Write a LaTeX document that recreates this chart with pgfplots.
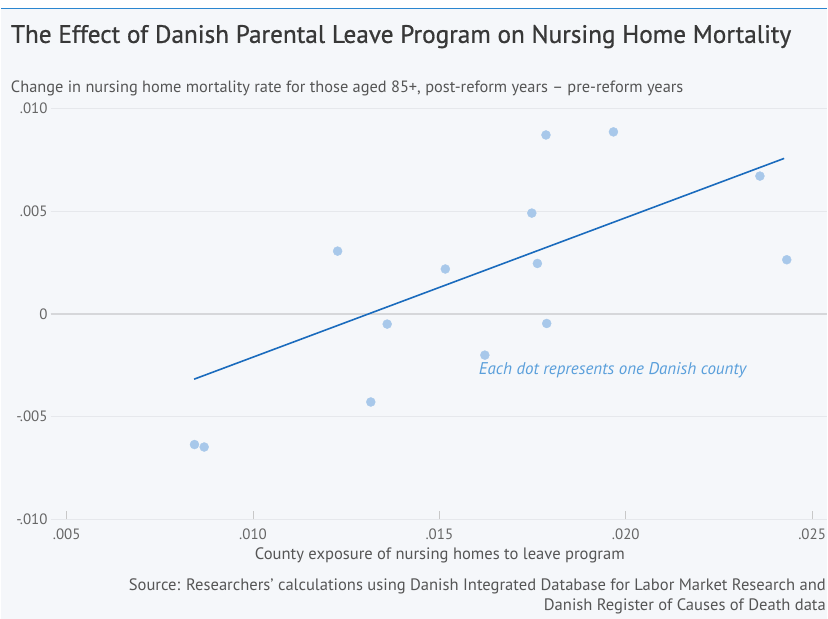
\documentclass[border=0pt]{standalone}
\usepackage{fontspec}
\setmainfont{PT Sans}
\newfontfamily\titlefont[FakeBold=0.7]{PT Sans}
\usepackage{pgfplots}
\pgfplotsset{compat=1.18}
\definecolor{bg}{HTML}{F5F7FA}
\definecolor{topline}{HTML}{2A86D0}
\definecolor{titlecol}{HTML}{383838}
\definecolor{subcol}{HTML}{555555}
\definecolor{tickcol}{HTML}{666666}
\definecolor{gridcol}{HTML}{E6E8EC}
\definecolor{zerocol}{HTML}{D6D7DA}
\definecolor{tickmark}{HTML}{C8C8C8}
\definecolor{dotblue}{HTML}{A8C8EA}
\definecolor{lineblue}{HTML}{1A6BBD}
\definecolor{annot}{HTML}{5A9FDB}
\begin{document}
\begin{tikzpicture}[x=1pt,y=1pt]
\fill[white] (0,0) rectangle (828,620);
\fill[bg] (0,0) rectangle (828,611);
\draw[topline, line width=1.6pt] (0,611.5) -- (828,611.5);
\begin{axis}[
  at={(50pt,99.5pt)}, anchor=south west,
  scale only axis, width=778pt, height=412pt,
  xmin=0.004572, xmax=0.0254, ymin=-0.010, ymax=0.010,
  scaled ticks=false,
  axis line style={draw=none},
  xtick={0.005,0.010,0.015,0.020,0.025},
  xticklabels={.005,.010,.015,.020,.025},
  ytick={-0.010,-0.005,0,0.005,0.010},
  yticklabels={-.010,-.005,0,.005,.010},
  xtick pos=bottom, ytick pos=left,
  ymajorgrids,
  major grid style={draw=gridcol, line width=0.8pt},
  tick align=inside,
  major tick length=8pt,
  x tick style={draw=tickmark, line width=1pt},
  y tick style={draw=none},
  tick label style={font=\fontsize{15}{15}\selectfont, text=tickcol},
  yticklabel style={anchor=east, inner sep=0pt, xshift=-3pt},
  xticklabel style={anchor=north, inner sep=0pt, yshift=-9pt},
  clip=false,
]
\draw[zerocol, line width=2pt] (axis cs:0.004572,0) -- (axis cs:0.0254,0);
\addplot[only marks, mark=*, mark size=4.5pt, color=dotblue, mark options={fill=dotblue, draw=dotblue}] coordinates {
(0.00843,-0.00636)
(0.00869,-0.00648)
(0.01316,-0.00429)
(0.01227,0.00305)
(0.01360,-0.00050)
(0.01516,0.00218)
(0.01748,0.00490)
(0.01763,0.00245)
(0.01786,0.00870)
(0.01788,-0.00047)
(0.01967,0.00885)
(0.02360,0.00670)
(0.02432,0.00263)
(0.01622,-0.00201)
};
\addplot[lineblue, line width=1.6pt] coordinates {(0.00842,-0.00318) (0.02425,0.00756)};
\end{axis}
\node[anchor=west, inner sep=0pt, text=annot, font=\itshape\fontsize{17}{17}\selectfont] at (479,249) {Each dot represents one Danish county};
\node[anchor=base west, inner sep=0pt, text=titlecol, font=\titlefont\fontsize{25.3}{25.3}\selectfont] at (10,577) {The Effect of Danish Parental Leave Program on Nursing Home Mortality};
\node[anchor=base west, inner sep=0pt, text=subcol, font=\fontsize{16.4}{16.4}\selectfont] at (10,527) {Change in nursing home mortality rate for those aged 85+, post-reform years – pre-reform years};
\node[anchor=base, inner sep=0pt, text=subcol, font=\fontsize{16.6}{16.6}\selectfont] at (440,59) {County exposure of nursing homes to leave program};
\node[anchor=base east, inner sep=0pt, text=subcol, font=\fontsize{16.6}{16.6}\selectfont] at (827,28) {Source: Researchers’ calculations using Danish Integrated Database for Labor Market Research and};
\node[anchor=base east, inner sep=0pt, text=subcol, font=\fontsize{16.6}{16.6}\selectfont] at (827,8) {Danish Register of Causes of Death data};
\end{tikzpicture}
\end{document}
